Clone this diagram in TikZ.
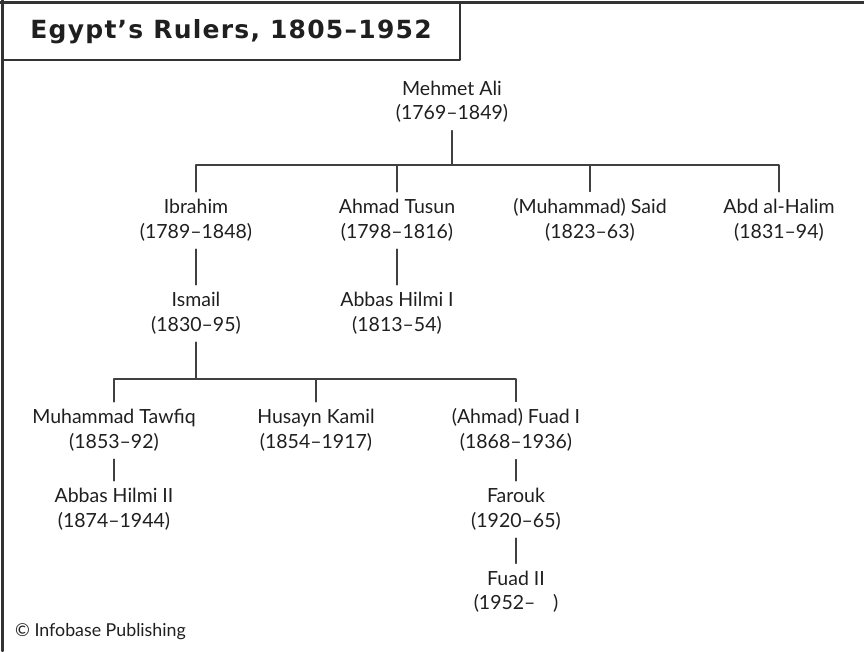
\documentclass[tikz,border=0pt]{standalone}
\usepackage{fontspec}
\setmainfont{Lato}
\newfontfamily\headfont{DejaVu Sans}[LetterSpace=5]
\begin{document}
\begin{tikzpicture}[x=1pt,y=-1pt,line cap=round,line join=round,
  ruler/.style={align=center,inner sep=0pt,text=black!88,font=\fontsize{19.5}{24.5}\selectfont},
  stem/.style={draw=black!75,line width=1.1pt,shorten <=8pt},
  drop/.style={draw=black!75,line width=1.1pt,shorten >=7pt},
  link/.style={stem,drop}]
	\useasboundingbox (0,0) rectangle (864,651);
	\draw[line width=2.4pt,black!80] (0,2.5) -- (864,2.5) (2.5,0) -- (2.5,651);
	\draw[line width=1.4pt,black!80] (2.5,2.5) rectangle (460,60);
	\node[text=black!88,font=\headfont\fontsize{25}{30}\selectfont\bfseries] (title) at (231,31.5) {Egypt’s Rulers, 1805–1952};
	\node[ruler] (mehmet) at (452,101.5) {Mehmet Ali\\(1769–1849)};
	\node[ruler] (ibrahim) at (196,220) {Ibrahim\\(1789–1848)};
	\node[ruler] (tusun) at (397,220) {Ahmad Tusun\\(1798–1816)};
	\node[ruler] (said) at (590,220) {(Muhammad) Said\\(1823–63)};
	\node[ruler] (halim) at (779,220) {Abd al-Halim\\(1831–94)};
	\node[ruler] (ismail) at (196,313) {Ismail\\(1830–95)};
	\node[ruler] (abbasi) at (397,313) {Abbas Hilmi I\\(1813–54)};
	\node[ruler] (tawfiq) at (114,430) {Muhammad Tawfiq\\(1853–92)};
	\node[ruler] (kamil) at (316,430) {Husayn Kamil\\(1854–1917)};
	\node[ruler] (fuadi) at (516,430) {(Ahmad) Fuad I\\(1868–1936)};
	\node[ruler] (abbasii) at (114,509) {Abbas Hilmi II\\(1874–1944)};
	\node[ruler] (farouk) at (516,509) {Farouk\\(1920–65)};
	\node[ruler] (fuadii) at (516,591.5) {Fuad II\\(1952–\hspace{0.9em})};
	\node[anchor=base west,inner sep=0pt,text=black!88,font=\fontsize{17.8}{21}\selectfont] (credit) at (15,636.7) {© Infobase Publishing};
	\coordinate (barA) at (452,165);
	\coordinate (barB) at (196,379);
	\draw[stem] (mehmet.south) -- (barA);
	\foreach \k in {ibrahim,tusun,said,halim}
		\draw[drop] (barA) -| (\k.north);
	\draw[stem] (ismail.south) -- (barB);
	\foreach \k in {tawfiq,kamil,fuadi}
		\draw[drop] (barB) -| (\k.north);
	\draw[link] (ibrahim.south) -- (ismail.north);
	\draw[link] (tusun.south) -- (abbasi.north);
	\draw[link] (tawfiq.south) -- (abbasii.north);
	\draw[link] (fuadi.south) -- (farouk.north);
	\draw[link] (farouk.south) -- (fuadii.north);
\end{tikzpicture}
\end{document}
